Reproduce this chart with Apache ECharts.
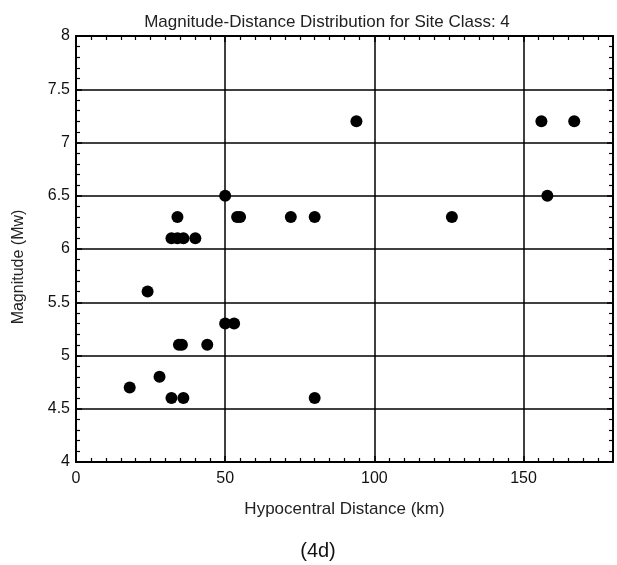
<!DOCTYPE html>
<html><head><meta charset="utf-8">
<script src="https://cdn.jsdelivr.net/npm/echarts@6/dist/echarts.min.js"></script>
<style>html,body{margin:0;padding:0;background:#fff}#c{width:617px;height:565px}</style>
</head><body><div id="c"></div>
<script>
var distances = [18, 24, 28, 32, 36, 32, 34, 36, 40, 34.5, 35.5, 44, 50, 53, 34, 50, 54, 55, 72, 80, 80, 94, 126, 156, 158, 167];
var magnitudes = [4.7, 5.6, 4.8, 4.6, 4.6, 6.1, 6.1, 6.1, 6.1, 5.1, 5.1, 5.1, 5.3, 5.3, 6.3, 6.5, 6.3, 6.3, 6.3, 6.3, 4.6, 7.2, 6.3, 7.2, 6.5, 7.2];
var xTicks = [0, 50, 100, 150];
var yTicks = [4, 4.5, 5, 5.5, 6, 6.5, 7, 7.5, 8];

var pts = distances.map(function (d, i) { return [d, magnitudes[i]]; });
var chart = echarts.init(document.getElementById('c'));
var font = 'Liberation Sans, Arial, sans-serif';
function axisBase(pos, isX, show) {
  return {
    type: 'value', position: pos,
    min: isX ? 0 : 4, max: isX ? 180 : 8, interval: isX ? 50 : 0.5,
    axisLine: { show: true, onZero: false, lineStyle: { color: '#000', width: 2 } },
    axisTick: { show: true, inside: true, length: 6, lineStyle: { color: '#000', width: 1.5 } },
    minorTick: { show: true, splitNumber: isX ? 10 : 5, length: 4, lineStyle: { color: '#000', width: 1.2 } },
    axisLabel: { show: show, color: '#111', fontSize: 16, fontFamily: font, margin: isX ? 9 : 6,
      showMaxLabel: !isX,
      formatter: function (v) {
        var list = isX ? xTicks : yTicks;
        return list.indexOf(v) >= 0 ? String(v) : '';
      } },
    splitLine: { show: show, lineStyle: { color: '#000', width: 1.5 } },
    minorSplitLine: { show: false }
  };
}
var xb = axisBase('bottom', true, true);
xb.name = 'Hypocentral Distance (km)'; xb.nameLocation = 'middle'; xb.nameGap = 39;
xb.nameTextStyle = { color: '#222', fontSize: 17, fontFamily: font, padding: [0, 0, 0, 0] };
var xt = axisBase('top', true, false);
var yl = axisBase('left', false, true);
var yr = axisBase('right', false, false);

chart.setOption({
  backgroundColor: '#fff',
  animation: false,
  title: [
    { text: 'Magnitude-Distance Distribution for Site Class: 4', left: 322, top: 9, textAlign: 'center',
      textStyle: { color: '#222', fontSize: 17, fontWeight: 'normal', fontFamily: font } },
    { text: '(4d)', left: 313, top: 536, textAlign: 'center',
      textStyle: { color: '#111', fontSize: 20, fontWeight: 'normal', fontFamily: font } }
  ],
  graphic: [{
    type: 'text', x: 19, y: 267, rotation: Math.PI / 2,
    style: { text: 'Magnitude (Mw)', fill: '#222', font: '16px Liberation Sans, Arial, sans-serif',
      align: 'center', verticalAlign: 'middle' }
  }],
  grid: { left: 76, top: 36, right: 4, bottom: 103, outerBoundsMode: 'none', containLabel: false },
  xAxis: [xb, xt],
  yAxis: [yl, yr],
  series: [{
    type: 'scatter', xAxisIndex: 0, yAxisIndex: 0, data: pts,
    symbol: 'circle', symbolSize: 12,
    itemStyle: { color: '#000', opacity: 1 }
  }]
});
</script></body></html>
